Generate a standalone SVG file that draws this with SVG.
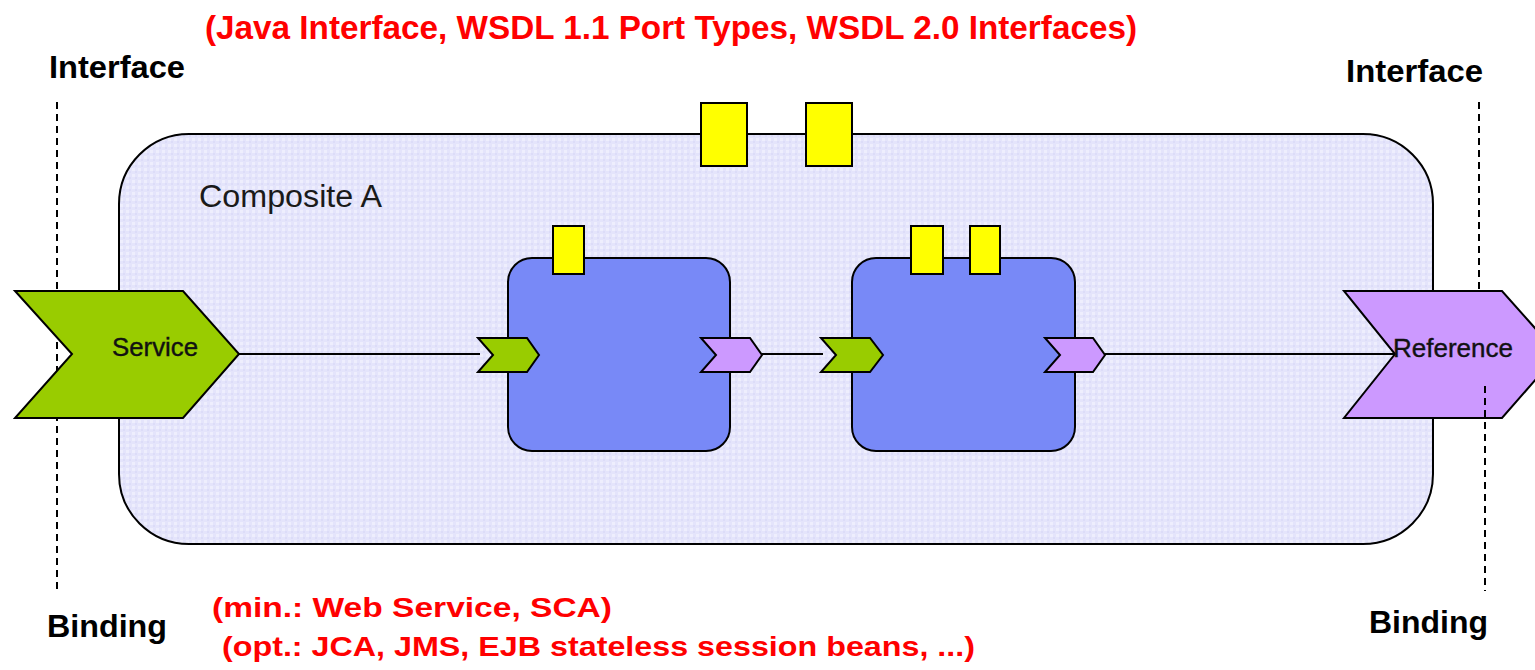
<svg xmlns="http://www.w3.org/2000/svg" width="1535" height="670" viewBox="0 0 1535 670">
  <defs>
    <pattern id="grain" width="6" height="6" patternUnits="userSpaceOnUse">
      <rect width="6" height="6" fill="#e4e4fb"/>
      <rect x="0" y="0" width="3" height="3" fill="#eeeefd"/>
      <rect x="3" y="3" width="2" height="2" fill="#dcdcf8"/>
    </pattern>
    <style>
      .lbl { font-family: "Liberation Sans", Arial, sans-serif; font-weight: bold; fill: #000; }
      .red { font-family: "Liberation Sans", Arial, sans-serif; font-weight: bold; fill: #ff0000; }
      .name { font-family: "Liberation Sans", Arial, sans-serif; fill: #1a1a1a; }
      .port { font-family: "Liberation Sans", Arial, sans-serif; fill: #111; stroke: #111; stroke-width: 0.4; }
      .guide { stroke: #000; stroke-width: 2; stroke-dasharray: 7 5; fill: none; }
      .wire { stroke: #000; stroke-width: 2; fill: none; }
      .comp { fill: #7889f7; stroke: #000; stroke-width: 2; }
      .prop { fill: #ffff00; stroke: #000; stroke-width: 2; }
      .svc { fill: #99cc00; stroke: #000; stroke-width: 2; stroke-linejoin: miter; }
      .ref { fill: #cc99ff; stroke: #000; stroke-width: 2; stroke-linejoin: miter; }
    </style>
  </defs>

  <rect width="1535" height="670" fill="#ffffff"/>

  <!-- heading and annotations -->
  <text class="red" x="205" y="39" font-size="34" textLength="932" lengthAdjust="spacingAndGlyphs">(Java Interface, WSDL 1.1 Port Types, WSDL 2.0 Interfaces)</text>
  <text class="lbl" x="49" y="78" font-size="31" textLength="136" lengthAdjust="spacingAndGlyphs">Interface</text>
  <text class="lbl" x="1346" y="82" font-size="31" textLength="137" lengthAdjust="spacingAndGlyphs">Interface</text>
  <text class="lbl" x="47" y="637" font-size="31" textLength="120" lengthAdjust="spacingAndGlyphs">Binding</text>
  <text class="lbl" x="1369" y="633" font-size="31" textLength="119" lengthAdjust="spacingAndGlyphs">Binding</text>
  <text class="red" x="212" y="617" font-size="28" textLength="400" lengthAdjust="spacingAndGlyphs">(min.: Web Service, SCA)</text>
  <text class="red" x="222" y="656" font-size="28" textLength="753" lengthAdjust="spacingAndGlyphs">(opt.: JCA, JMS, EJB stateless session beans, ...)</text>

  <!-- interface / binding guide lines -->
  <g id="guides">
    <line class="guide" x1="57" y1="102" x2="57" y2="594"/>
    <line class="guide" x1="1479" y1="102" x2="1479" y2="290"/>
    <line class="guide" x1="1485" y1="386" x2="1485" y2="591"/>
  </g>

  <!-- composite -->
  <g id="composite-a">
    <rect x="119" y="134" width="1314" height="410" rx="70" ry="70" fill="url(#grain)" stroke="#000" stroke-width="2"/>
    <text class="name" x="199" y="207" font-size="31" textLength="183" lengthAdjust="spacingAndGlyphs">Composite A</text>
  </g>

  <!-- composite properties -->
  <g id="composite-props">
    <rect class="prop" x="701" y="103" width="46" height="63"/>
    <rect class="prop" x="806" y="103" width="46" height="63"/>
  </g>

  <!-- wires -->
  <g id="connectors">
    <line class="wire" x1="239" y1="354" x2="480" y2="354"/>
    <line class="wire" x1="762" y1="354" x2="823" y2="354"/>
    <line class="wire" x1="1105" y1="354" x2="1395" y2="354"/>
  </g>

  <!-- component 1 -->
  <g id="component-1">
    <rect class="comp" x="508" y="258" width="222" height="193" rx="24" ry="24"/>
    <rect class="prop" x="553" y="226" width="31" height="48"/>
    <polygon class="svc" points="478,338 527,338 539,355 527,372 478,372 493,355"/>
    <polygon class="ref" points="701,338 750,338 762,355 750,372 701,372 716,355"/>
  </g>

  <!-- component 2 -->
  <g id="component-2">
    <rect class="comp" x="852" y="258" width="223" height="193" rx="24" ry="24"/>
    <rect class="prop" x="911" y="226" width="32" height="48"/>
    <rect class="prop" x="970" y="226" width="30" height="48"/>
    <polygon class="svc" points="821,338 870,338 883,355 870,372 821,372 836,355"/>
    <polygon class="ref" points="1045,338 1093,338 1105,355 1093,372 1045,372 1060,355"/>
  </g>

  <!-- composite service -->
  <g id="service">
    <polygon class="svc" points="15,291 183,291 239,354 183,418 15,418 72,354"/>
    <text class="port" x="112" y="356" font-size="26" textLength="86" lengthAdjust="spacingAndGlyphs">Service</text>
  </g>

  <!-- composite reference -->
  <g id="reference">
    <polygon class="ref" points="1344,291 1502,291 1558,354 1502,418 1344,418 1395,354"/>
    <text class="port" x="1393" y="357" font-size="26" textLength="120" lengthAdjust="spacingAndGlyphs">Reference</text>
  </g>
  <line class="guide" x1="1485" y1="386" x2="1485" y2="418"/>
</svg>
